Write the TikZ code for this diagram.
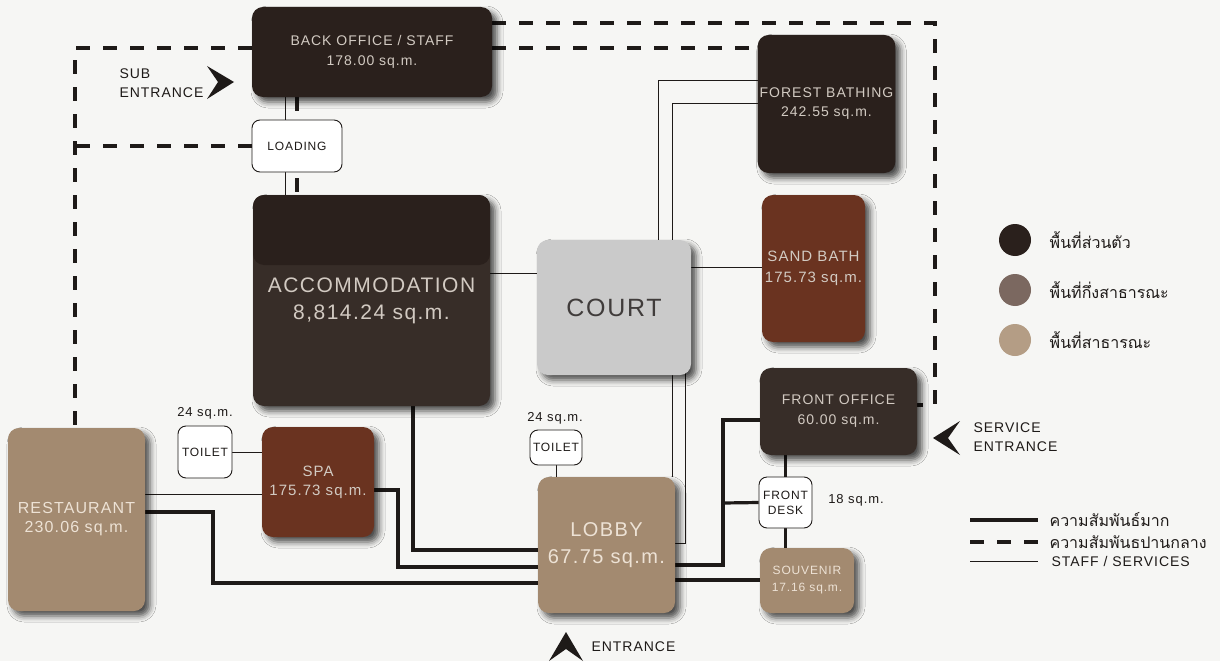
\documentclass[tikz,border=0pt]{standalone}
\usepackage{fontspec}
\setmainfont{Liberation Sans}[LetterSpace=7]
\newfontfamily\thaifont[Script=Thai]{Loma}
\usepackage{tikz}
\usetikzlibrary{positioning, calc, backgrounds, shadows.blur}
\definecolor{paper}{HTML}{F6F6F4}
\definecolor{privdark}{HTML}{2A201C}
\definecolor{privmid}{HTML}{372D28}
\definecolor{semipub}{HTML}{6A3320}
\definecolor{pubtan}{HTML}{A38A70}
\definecolor{courtgray}{HTML}{CACACA}
\definecolor{lighttext}{HTML}{D2CAC2}
\definecolor{tantext}{HTML}{EDE2D5}
\definecolor{inkline}{HTML}{1E1A18}
\definecolor{legsemi}{HTML}{7B6860}
\definecolor{legpub}{HTML}{B49D85}
\newcommand{\setsz}[2]{\fontsize{#1}{#2}\selectfont}

\begin{document}
\begin{tikzpicture}[
    x=1pt, y=-1pt,
    room/.style={rectangle, rounded corners=11pt, inner sep=2pt, align=center,
                 blur shadow={shadow xshift=5pt, shadow yshift=-5pt,
                              shadow blur radius=6pt, shadow opacity=70}},
    boxsize/.style 2 args={minimum width=#1, minimum height=#2},
    private/.style={room, fill=privdark, text=lighttext},
    semipublic/.style={room, fill=semipub, text=lighttext},
    public/.style={room, fill=pubtan, text=tantext},
    service/.style={rectangle, rounded corners=8pt, draw=inkline,
                    line width=0.9pt, fill=white, align=center, inner sep=1pt,
                    font=\setsz{12}{15}, text=inkline},
    note/.style={font=\setsz{13}{16}, text=inkline},
    entry/.style={font=\setsz{14}{19}, text=inkline, align=left, anchor=west},
    midline/.style={line width=3.6pt, dash pattern=on 14pt off 13pt,
                    color=inkline},
    strongline/.style={draw=inkline, line width=3.2pt},
    staffline/.style={draw=inkline, line width=0.9pt},
    legdot/.style={circle, minimum size=32pt, inner sep=0pt},
    legtext/.style={font=\thaifont\setsz{16}{19}, text=inkline}
]

\useasboundingbox (0,0) rectangle (1220,661);

\node[private, boxsize={240pt}{90pt}, font=\setsz{14}{20}] (backoffice)
    at (372,52) {BACK OFFICE / STAFF\\178.00 sq.m.};
\node[service, boxsize={90pt}{52pt}] (loading) at (297,146) {LOADING};
\node[private, fill=privmid, boxsize={237pt}{211pt}, font=\setsz{21}{27},
      path picture={\fill[privdark] (path picture bounding box.north west)
        rectangle ([yshift=-70pt]path picture bounding box.north east);}]
    (accom) at (371.5,300.5) {ACCOMMODATION\\8,814.24 sq.m.};
\node[room, fill=courtgray, text=inkline!85, boxsize={154pt}{135pt},
      font=\setsz{25}{30}] (court) at (614,307.5) {COURT};
\node[private, boxsize={133pt}{138pt}, font=\setsz{14}{19}] (forest)
    at (826.5,104) {FOREST BATHING\\242.55 sq.m.};
\node[semipublic, boxsize={103pt}{147pt}, font=\setsz{15}{21}] (sandbath)
    at (813.5,268.5) {SAND BATH\\175.73 sq.m.};
\node[private, fill=privmid, boxsize={157pt}{87pt}, font=\setsz{14}{20}]
    (frontoffice) at (838.5,411.5) {FRONT OFFICE\\60.00 sq.m.};
\node[service, boxsize={53pt}{51pt}] (frontdesk) at (785.5,502.5) {FRONT\\DESK};
\node[public, boxsize={94pt}{65pt}, font=\setsz{12}{17}] (souvenir)
    at (807,580.5) {SOUVENIR\\17.16 sq.m.};
\node[public, boxsize={137pt}{136pt}, font=\setsz{20}{27}] (lobby)
    at (606.5,545) {LOBBY\\67.75 sq.m.};
\node[service, boxsize={52pt}{35pt}] (toiletlobby) at (556,447.5) {TOILET};
\node[semipublic, boxsize={112pt}{110pt}, font=\setsz{15}{19}] (spa)
    at (318,482) {SPA\\175.73 sq.m.};
\node[service, boxsize={54pt}{52pt}] (toiletspa) at (205,452) {TOILET};
\node[public, boxsize={137pt}{183pt}, font=\setsz{16}{19}] (restaurant)
    at (76.5,519.5) {RESTAURANT\\230.06 sq.m.};

\node[note] (spatoiletarea) at (205,413) {24 sq.m.};
\node[note] (lobbytoiletarea) at (555,418) {24 sq.m.};
\node[note] (deskarea) at (856,500) {18 sq.m.};

\node[entry] (subentry) at (116,83) {SUB\\ENTRANCE};
\fill[inkline] (207,66) -- (234,82) -- (207,99) -- (218,82) -- cycle;
\node[entry] (serviceentry) at (970,437) {SERVICE\\ENTRANCE};
\fill[inkline] (960,421) -- (933,438) -- (960,455) -- (948,438) -- cycle;
\node[entry] (mainentry) at (588,647) {ENTRANCE};
\fill[inkline] (549,661) -- (566,632) -- (583,661) -- (566,649) -- cycle;

\node[legdot, fill=privdark] (dotprivate) at (1015,240) {};
\node[legdot, fill=legsemi] (dotsemi) at (1015,290) {};
\node[legdot, fill=legpub] (dotpublic) at (1015,340) {};
\node[legtext, right=15pt of dotprivate] (txtprivate) {พื้นที่ส่วนตัว};
\node[legtext, right=15pt of dotsemi] (txtsemi) {พื้นที่กึ่งสาธารณะ};
\node[legtext, right=15pt of dotpublic] (txtpublic) {พื้นที่สาธารณะ};

\coordinate (keystrongA) at (970,520);
\coordinate (keystrongB) at (1038,520);
\coordinate (keymidA) at (970,542);
\coordinate (keymidB) at (1038,542);
\coordinate (keystaffA) at (970,561);
\coordinate (keystaffB) at (1038,561);
\node[legtext, right=8pt of keystrongB] (txtstrong) {ความสัมพันธ์มาก};
\node[legtext, right=8pt of keymidB] (txtmid) {ความสัมพันธปานกลาง};
\node[legtext, font=\setsz{14}{17}, right=10pt of keystaffB] (txtstaff)
    {STAFF / SERVICES};

\begin{scope}[on background layer]
\fill[paper] (0,0) rectangle (1220,661);

\draw[midline] (backoffice.west |- 0,48) -- (75,48)
    -- (restaurant.north -| 75,0);
\draw[midline] (loading.west) -- (75,146);
\draw[midline] (backoffice.east |- 0,23) -- (935,23) -- (935,405)
    -- (frontoffice.east |- 0,405);
\draw[midline] (backoffice.east |- 0,48) -- (forest.west |- 0,48);
\draw[midline] (backoffice.south -| 297,0) -- (accom.north -| 297,0);

\draw[staffline] (backoffice.south -| 285,0) -- (loading.north -| 285,0);
\draw[staffline] (loading.south -| 285,0) -- (accom.north -| 285,0);
\draw[staffline] (accom.east |- 0,273) -- (658,273) -- (658,80)
    -- (forest.west |- 0,80);
\draw[staffline] (forest.west |- 0,103) -- (672,103)
    -- (lobby.north -| 672,0);
\draw[staffline] (sandbath.west |- 0,267) -- (685,267) -- (685,543)
    -- (lobby.east |- 0,543);
\draw[staffline] (restaurant.east |- 0,494) -- (spa.west |- 0,494);
\draw[staffline] (toiletspa.east) -- (spa.west |- toiletspa.east);
\draw[staffline] (toiletlobby.south) -- (lobby.north -| toiletlobby.south);

\draw[strongline] (accom.south -| 413,0) -- (413,550)
    -- (lobby.west |- 0,550);
\draw[strongline] (spa.east |- 0,490) -- (398,490) -- (398,567)
    -- (lobby.west |- 0,567);
\draw[strongline] (restaurant.east |- 0,512) -- (213,512) -- (213,583)
    -- (lobby.west |- 0,583);
\draw[strongline] (lobby.east |- 0,565) -- (723,565) -- (723,420)
    -- (frontoffice.west |- 0,420);
\draw[strongline] (723,503) -- (frontdesk.west);
\draw[strongline] (lobby.east |- 0,580) -- (souvenir.west |- 0,580);
\draw[strongline] (frontoffice.south -| frontdesk.north) -- (frontdesk.north);
\draw[strongline] (frontdesk.south) -- (souvenir.north -| frontdesk.south);

\draw[strongline] (keystrongA) -- (keystrongB);
\draw[midline] (keymidA) -- (keymidB);
\draw[staffline] (keystaffA) -- (keystaffB);
\end{scope}

\end{tikzpicture}
\end{document}
